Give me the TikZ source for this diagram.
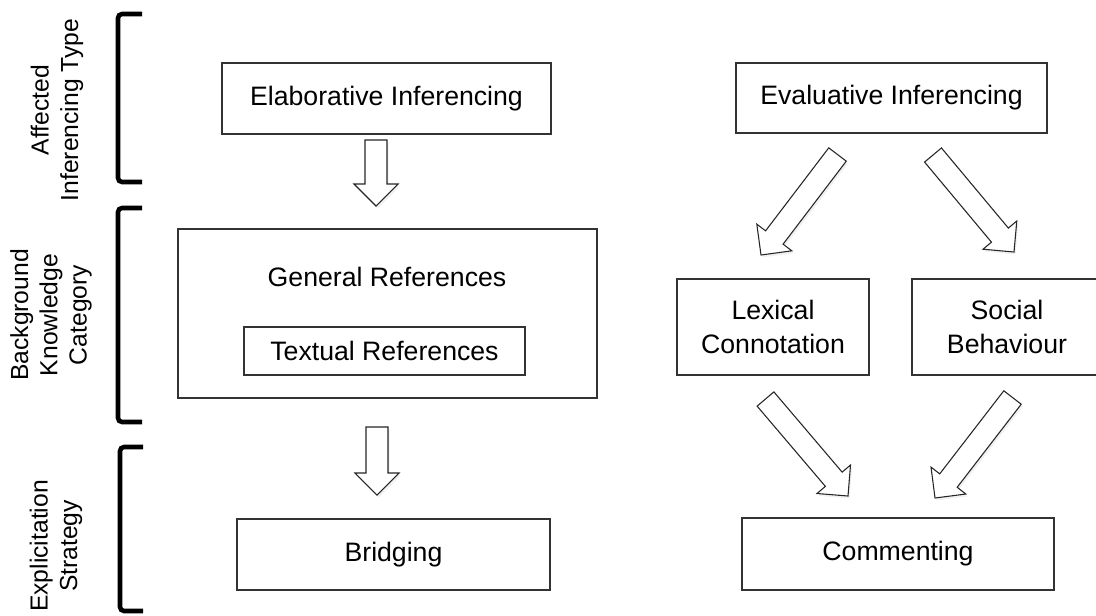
\documentclass[tikz,border=0pt]{standalone}
\usepackage{fontspec}
\setmainfont{Liberation Sans}
\usetikzlibrary{calc,shadows}
\newcommand\blockarr[2]{%
  \coordinate (#1#2h) at ($(#2)!16.5pt!(#1)$);
  \draw[barrow] ($(#1)!8.25pt!90:(#2)$) -- ($(#1#2h)!8.25pt!90:(#2)$) -- ($(#1#2h)!16.5pt!90:(#2)$) -- (#2) -- ($(#1#2h)!16.5pt!-90:(#2)$) -- ($(#1#2h)!8.25pt!-90:(#2)$) -- ($(#1)!8.25pt!-90:(#2)$) -- cycle;
}
\begin{document}
\begin{tikzpicture}[x=0.75pt,y=-0.75pt,
  box/.style={draw=black!80, line width=0.9pt, rectangle, inner sep=0pt, align=center, font=\fontsize{20}{26}\selectfont},
  plain/.style={inner sep=0pt, align=center, font=\fontsize{20}{26}\selectfont},
  lbl/.style={rotate=90, align=center, inner sep=0pt, font=\fontsize{18.5}{22}\selectfont},
  brack/.style={line width=3.4pt, rounded corners=3pt},
  barrow/.style={draw=black!85, line width=0.8pt, fill=white, line join=miter,
    drop shadow={opacity=0.12, shadow xshift=1.2pt, shadow yshift=-1.8pt}}
]
\useasboundingbox (0,0) rectangle (1096,615);

% side labels
\node[lbl] (l1) at (57,110) {Affected\\Inferencing Type};
\node[lbl] (l2) at (51,315) {Background\\Knowledge\\Category};
\node[lbl] (l3) at (56,546) {Explicitation\\Strategy};

% brackets
\draw[brack] (142,14) -- (118,14) -- (118,182) -- (142,182);
\draw[brack] (142,208) -- (118,208) -- (118,422) -- (142,422);
\draw[brack] (143,447) -- (120,447) -- (120,611) -- (143,611);

% boxes
\node[box, minimum width=246.75pt, minimum height=53.25pt] (elab) at (386.5,98.5) {Elaborative Inferencing};
\node[box, minimum width=233.25pt, minimum height=52.5pt] (evalu) at (891.5,98) {Evaluative Inferencing};
\node[box, minimum width=314.25pt, minimum height=126.75pt] (genref) at (387.5,313.5) {};
\node[plain] (gentext) at (387,277) {General References};
\node[box, minimum width=210.75pt, minimum height=36pt] (textref) at (384.5,351) {Textual References};
\node[box, minimum width=234.75pt, minimum height=53.25pt] (bridg) at (393.5,554.5) {Bridging};
\node[box, minimum width=144pt, minimum height=72pt] (lex) at (773,327) {Lexical\\Connotation};
\node[box, minimum width=142.5pt, minimum height=72pt] (soc) at (1007,327) {Social\\Behaviour};
\node[box, minimum width=234pt, minimum height=54pt] (comm) at (898,554) {Commenting};

% arrow ends
\coordinate (d1s) at (376,140); \coordinate (d1e) at (376,206);
\coordinate (d2s) at (377,427); \coordinate (d2e) at (377,495);
\coordinate (uls) at (837.5,154.5); \coordinate (ule) at (761,255);
\coordinate (urs) at (933,155); \coordinate (ure) at (1014,252);
\coordinate (lls) at (765.5,399); \coordinate (lle) at (848,496);
\coordinate (lrs) at (1012.5,397.5); \coordinate (lre) at (935,498);

\blockarr{d1s}{d1e}
\blockarr{d2s}{d2e}
\blockarr{uls}{ule}
\blockarr{urs}{ure}
\blockarr{lls}{lle}
\blockarr{lrs}{lre}
\end{tikzpicture}
\end{document}
